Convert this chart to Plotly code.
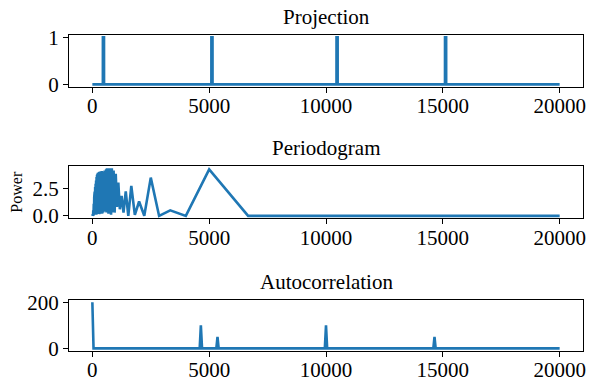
import numpy as np
import plotly.graph_objects as go

# --- data -------------------------------------------------------------
n_samples = 20000
spike_starts = [450, 5094, 10450, 15094]   # start index of each pulse
spike_width = 50                           # samples per pulse

# periodogram: period (samples) and power
periods = [20000, 10000, 6667, 5000, 4000, 3333, 2857, 2500, 2222, 2000,
           1818, 1667, 1538, 1429, 1333, 1250, 1176, 1111, 1053, 1000,
           952, 909, 870, 833, 800, 769, 741, 714, 690, 667,
           645, 625, 606, 588, 571, 556, 541, 526, 513, 500,
           488, 476, 465, 455, 444, 435, 425, 417, 408, 400,
           392, 385, 377, 370, 357, 345, 333, 323, 313, 303,
           294, 286, 270, 260, 250, 240, 230, 220, 210, 200,
           190, 180, 170, 160, 150, 140, 130, 120, 110, 100,
           90, 80, 70, 60, 50, 40, 30, 20, 10, 2]
power = [0.0, 0.05, 0.0, 4.2, 0.0, 0.5, 0.0, 3.45, 0.02, 1.3,
         0.1, 2.7, 0.0, 2.2, 0.3, 1.8, 0.6, 3.0, 0.8, 3.8,
         0.3, 4.1, 0.3, 4.3, 0.1, 4.3, 0.5, 4.3, 0.2, 4.2,
         0.6, 4.3, 0.3, 4.2, 0.8, 4.2, 0.4, 4.1, 1.0, 3.0,
         0.5, 3.9, 0.3, 4.0, 0.6, 4.0, 0.2, 4.0, 0.7, 4.05,
         0.3, 4.0, 0.5, 4.0, 0.2, 4.0, 0.4, 4.0, 0.3, 3.95,
         0.2, 3.95, 0.3, 3.9, 0.2, 3.9, 0.3, 3.8, 0.2, 3.7,
         0.2, 3.5, 0.1, 3.2, 0.2, 2.9, 0.1, 2.6, 0.1, 2.2,
         0.1, 1.7, 0.1, 1.1, 0.05, 0.5, 0.0, 0.15, 0.0, 0.0]

# autocorrelation peaks: lag and height
acf_lags = [0, 4644, 5356, 10000, 14644]
acf_heights = [200, 100, 50, 100, 50]

# --- build series -----------------------------------------------------
proj = np.zeros(n_samples + 1)
for s in spike_starts:
    proj[s:s + spike_width] = 1.0
proj_x = np.arange(n_samples + 1)

acf_x, acf_y = [], []
for lag, h in zip(acf_lags, acf_heights):
    if lag > 0:
        acf_x.append(lag - spike_width); acf_y.append(0)
    acf_x.append(lag); acf_y.append(h)
    acf_x.append(lag + spike_width); acf_y.append(0)
acf_x.append(n_samples); acf_y.append(0)

# --- figure -----------------------------------------------------------
W, H = 592, 381
BLUE = "#1f77b4"
FONT = "Liberation Serif, Times New Roman, DejaVu Serif, serif"

def py(top, bottom):
    return [1 - bottom / H, 1 - top / H]

x_dom = [69 / W, 583 / W]
dom1 = py(35, 86.7)
dom2 = py(166, 218.3)
dom3 = py(300, 350.7)

fig = go.Figure()
line = dict(color=BLUE, width=2.6)
fig.add_trace(go.Scatter(x=proj_x, y=proj, mode="lines", line=line,
                         xaxis="x", yaxis="y"))
fig.add_trace(go.Scatter(x=periods, y=power, mode="lines", line=line,
                         xaxis="x2", yaxis="y2"))
fig.add_trace(go.Scatter(x=acf_x, y=acf_y, mode="lines", line=line,
                         xaxis="x3", yaxis="y3"))

axis_common = dict(showline=True, mirror=True, linecolor="black", linewidth=1.2,
                   ticks="outside", ticklen=5, tickwidth=1.2, tickcolor="black",
                   showgrid=False, zeroline=False,
                   tickfont=dict(family=FONT, size=21, color="black"),
                   automargin=False)
xcommon = dict(axis_common, range=[-1000, 21000], ticklabelstandoff=-5,
               tickvals=[0, 5000, 10000, 15000, 20000],
               ticktext=["0", "5000", "10000", "15000", "20000"])

fig.update_layout(
    width=W, height=H,
    margin=dict(l=0, r=0, t=0, b=0),
    paper_bgcolor="white", plot_bgcolor="white",
    showlegend=False,
    xaxis=dict(xcommon, domain=x_dom, anchor="y"),
    yaxis=dict(axis_common, domain=dom1, anchor="x", range=[-0.05, 1.05],
               tickvals=[0, 1], ticktext=["0", "1"]),
    xaxis2=dict(xcommon, domain=x_dom, anchor="y2"),
    yaxis2=dict(axis_common, domain=dom2, anchor="x2", range=[-0.215, 4.5],
                tickvals=[0, 2.5], ticktext=["0.0", "2.5"]),
    xaxis3=dict(xcommon, domain=x_dom, anchor="y3"),
    yaxis3=dict(axis_common, domain=dom3, anchor="x3", range=[-10, 210],
                tickvals=[0, 200], ticktext=["0", "200"]),
)

xc = (x_dom[0] + x_dom[1]) / 2
for title, dom in [("Projection", dom1), ("Periodogram", dom2),
                   ("Autocorrelation", dom3)]:
    fig.add_annotation(text=title, xref="paper", yref="paper", x=xc, y=dom[1],
                       xanchor="center", yanchor="bottom", yshift=4,
                       showarrow=False,
                       font=dict(family=FONT, size=21, color="black"))

fig.add_annotation(text="Power", xref="paper", yref="paper",
                   x=16.5 / W, y=(dom2[0] + dom2[1]) / 2, textangle=-90,
                   xanchor="center", yanchor="middle", showarrow=False,
                   font=dict(family=FONT, size=16, color="black"))

fig.write_html("out.html")
